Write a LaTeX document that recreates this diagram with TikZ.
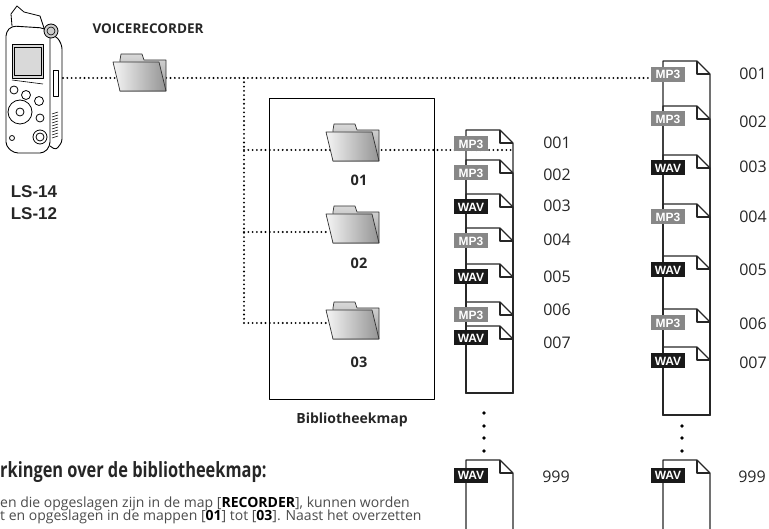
\documentclass[tikz,border=0pt]{standalone}
\usepackage{fontspec}
\setmainfont{Open Sans}
\newfontfamily\arialfont{Liberation Sans}
\newfontfamily\headfont[FakeStretch=0.78]{Open Sans}
\usetikzlibrary{backgrounds,positioning}

% one document sheet: left edge, top, bottom
\newcommand{\docpage}[3]{%
  \draw[sheet] (#1,#3) -- (#1,#2) -- (#1+34,#2) -- (#1+47,#2+13) -- (#1+47,#3) -- cycle;
  \draw[sheet] (#1+34,#2) -- (#1+34,#2+13) -- (#1+47,#2+13);}
% named folder: name, position
\newcommand{\folderat}[2]{%
  \node[fbox] (#1) at (#2) {};
  \pic at (#1) {folder};}

\begin{document}
\begin{tikzpicture}[x=1pt, y=-1pt, line join=round,
    sheet/.style={line width=1.1pt, draw=black!85},
    dots/.style={line width=2.1pt, dash pattern=on 0pt off 4.3pt, line cap=round},
    tag/.style={minimum width=34pt, minimum height=15pt, inner sep=0pt, text=white,
      font=\arialfont\bfseries\fontsize{12}{12}\selectfont},
    mp3/.style={tag, fill=black!47},
    wav/.style={tag, fill=black!90},
    num/.style={font=\fontsize{16}{16}\selectfont, text=black!85},
    bold/.style={font=\bfseries\fontsize{#1}{#1}\selectfont, text=black!85},
    fbox/.style={minimum width=53pt, minimum height=37pt, inner sep=0pt},
    folder/.pic={
      \begin{scope}[shift={(-26.5,-18.5)}, line width=0.7pt]
        \shadedraw[top color=black!15, bottom color=black!40, draw=black!80]
          (7,37) -- (7,6) -- (8,0) -- (29,0) -- (31,6) -- (53,6) -- (53,37) -- cycle;
        \shadedraw[left color=black!4, right color=black!42, draw=black!80]
          (0,8) -- (46,8) -- (53,37) -- (7,37) -- cycle;
      \end{scope}}]
  \useasboundingbox (0,0) rectangle (769,529);

  % recorder
  \filldraw[fill=white, line width=0.9pt, rounded corners=4pt] (6,32) -- (6,146) -- (14,153) -- (44,153) -- (50,146) -- (50,34) -- (44,28) -- (12,26) -- cycle;
  \draw[line width=0.9pt, rounded corners=3pt] (50,34) -- (58,38) -- (62,46) -- (62,142) -- (56,150) -- (50,146);
  \draw[line width=0.8pt] (12,26) -- (11,14) -- (17,6) -- (24,12) -- (40,16) -- (44,28);
  \filldraw[fill=black!20, line width=0.8pt] (51,31) circle (7);
  \draw[line width=0.6pt] (51,31) circle (4);
  \filldraw[fill=black!15, line width=0.8pt] (12,44) rectangle (43,78);
  \draw[line width=0.6pt] (14,47) rectangle (41,75);
  \draw[line width=0.6pt] (12,80) -- (43,84);
  \draw[line width=0.8pt] (14,90) circle (4) (26,95) circle (4.5) (39,101) circle (4.5);
  \draw[line width=0.8pt] (20,112) circle (12) (20,112) circle (4) (40,118) circle (4);
  \draw[line width=0.8pt] (40,137) circle (7) (40,137) circle (4) (12,138) circle (2.5);
  \draw[line width=0.7pt] (53,70) rectangle (58,96);
  \foreach \yy in {114,117,...,140}
    \draw[line width=0.5pt] (52,\yy) -- (58,\yy-2);
  \coordinate (rec) at (63,78);

  \node[font=\arialfont\bfseries\fontsize{17}{17}\selectfont, text=black!85] (ls14) at (34,192) {LS-14};
  \node[font=\arialfont\bfseries\fontsize{17}{17}\selectfont, text=black!85] (ls12) at (34,214) {LS-12};
  \node[bold=13.5] (vrname) at (148,29) {VOICERECORDER};
  \folderat{vr}{139.5,72.5}

  % library folder
  \node[draw, line width=0.9pt, minimum width=165pt, minimum height=301pt, inner sep=0pt] (lib) at (351.5,248.5) {};
  \node[bold=14] (libname) at (352,420) {Bibliotheekmap};
  \folderat{f1}{352.5,142.5}
  \folderat{f2}{352.5,224.5}
  \folderat{f3}{352.5,320.5}
  \node[bold=14.5] (n01) at (359,180) {01};
  \node[bold=14.5] (n02) at (359,263) {02};
  \node[bold=14.5] (n03) at (359,362) {03};

  % files in folder 01
  \foreach \t/\g/\l/\k/\s/\n in {130/144/143/mp3/MP3/001, 160/173/175/mp3/MP3/002,
      194/207/206/wav/WAV/003, 228/241/240/mp3/MP3/004, 264/277/277/wav/WAV/005,
      302/315/310/mp3/MP3/006, 326/338/343/wav/WAV/007} {
    \docpage{466}{\t}{393}
    \node[\k] (a\n) at (471,\g) {\s};
    \node[num] (la\n) at (557,\l) {\n};
  }
  \docpage{466}{460}{540}
  \node[wav] (a999) at (471,475) {WAV};
  \node[num] (la999) at (556,477) {999};
  \foreach \yy in {413,426,438,451}
    \fill (484,\yy) circle (1.8);

  % files in VOICERECORDER
  \foreach \t/\g/\l/\k/\s/\n in {61/74.5/74/mp3/MP3/001, 106/119/122/mp3/MP3/002,
      155/168/167/wav/WAV/003, 204/217/217/mp3/MP3/004, 256/270/270/wav/WAV/005,
      309/323/324/mp3/MP3/006, 347/361/363/wav/WAV/007} {
    \docpage{663}{\t}{415}
    \node[\k] (b\n) at (668,\g) {\s};
    \node[num] (lb\n) at (753,\l) {\n};
  }
  \docpage{663}{460}{540}
  \node[wav] (b999) at (668,475) {WAV};
  \node[num] (lb999) at (752,477) {999};
  \foreach \yy in {426,438,451}
    \fill (682,\yy) circle (1.8);

  % notes
  \node[anchor=base west, inner sep=0pt, font=\headfont\bfseries\fontsize{21}{21}\selectfont, text=black!85] (head) at (0,477) {rkingen over de bibliotheekmap:};
  \node[anchor=base west, inner sep=0pt, font=\fontsize{14}{14}\selectfont, text=black!70] (txt1) at (0,507)
    {en die opgeslagen zijn in de map [\textcolor{black}{\bfseries RECORDER}], kunnen worden};
  \node[anchor=base west, inner sep=0pt, font=\fontsize{14}{14}\selectfont, text=black!70] (txt2) at (0,520)
    {t en opgeslagen in de mappen [\textcolor{black}{\bfseries 01}] tot [\textcolor{black}{\bfseries 03}]. Naast het overzetten};

  % dotted links
  \coordinate (j0) at (244,78);
  \coordinate (j1) at (244,150);
  \coordinate (j2) at (244,232);
  \coordinate (j3) at (244,323);
  \coordinate (e1) at (514,150);
  \coordinate (e2) at (663,78);
  \begin{scope}[on background layer]
    \draw[dots] (rec) -- (e2);
    \draw[dots] (j0) -- (j3);
    \draw[dots] (j1) -- (e1);
    \draw[dots] (j2) -- (j2 -| f2.west);
    \draw[dots] (j3) -- (j3 -| f3.west);
  \end{scope}
\end{tikzpicture}
\end{document}
